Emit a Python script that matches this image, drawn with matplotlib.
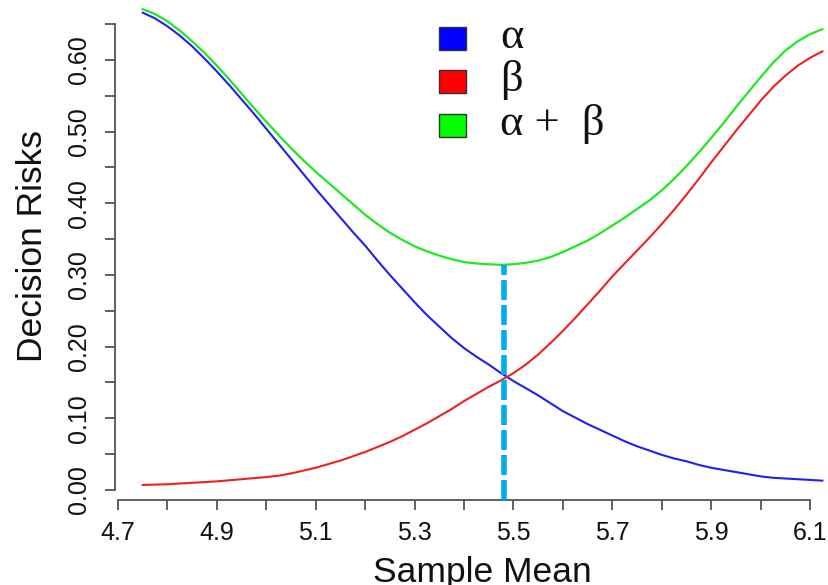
import matplotlib
matplotlib.use("Agg")
import matplotlib.pyplot as plt
from matplotlib.patches import Rectangle

plt.rcParams["font.family"] = ["Liberation Sans", "DejaVu Sans"]

# values
mean_x = [4.750, 4.775, 4.800, 4.825, 4.850, 4.875, 4.900, 4.925, 4.950, 4.975,
          5.000, 5.025, 5.050, 5.075, 5.100, 5.125, 5.150, 5.175, 5.200, 5.225,
          5.250, 5.275, 5.300, 5.325, 5.350, 5.375, 5.400, 5.425, 5.450, 5.475,
          5.500, 5.525, 5.550, 5.575, 5.600, 5.625, 5.650, 5.675, 5.700, 5.725,
          5.750, 5.775, 5.800, 5.825, 5.850, 5.875, 5.900, 5.925, 5.950, 5.975,
          6.000, 6.025, 6.050, 6.075, 6.100, 6.125]
alpha_risk = [0.666, 0.658, 0.647, 0.634, 0.619, 0.602, 0.584, 0.565, 0.545, 0.525,
              0.504, 0.483, 0.462, 0.441, 0.420, 0.400, 0.380, 0.360, 0.341, 0.320,
              0.300, 0.281, 0.262, 0.244, 0.228, 0.212, 0.198, 0.186, 0.175, 0.163,
              0.152, 0.142, 0.132, 0.121, 0.110, 0.101, 0.092, 0.084, 0.076, 0.068,
              0.061, 0.055, 0.049, 0.044, 0.040, 0.035, 0.031, 0.028, 0.025, 0.022,
              0.019, 0.017, 0.016, 0.015, 0.014, 0.013]
beta_risk = [0.007, 0.0075, 0.008, 0.009, 0.010, 0.011, 0.012, 0.0135, 0.015, 0.0165,
             0.018, 0.020, 0.023, 0.027, 0.031, 0.036, 0.041, 0.047, 0.053, 0.060,
             0.067, 0.075, 0.084, 0.093, 0.103, 0.113, 0.124, 0.134, 0.144, 0.153,
             0.163, 0.175, 0.189, 0.205, 0.222, 0.240, 0.259, 0.278, 0.298, 0.316,
             0.334, 0.352, 0.371, 0.391, 0.412, 0.434, 0.457, 0.479, 0.501, 0.522,
             0.543, 0.562, 0.578, 0.592, 0.603, 0.612]
total_risk = [0.671, 0.664, 0.654, 0.641, 0.626, 0.610, 0.592, 0.573, 0.553, 0.533,
              0.514, 0.495, 0.477, 0.460, 0.444, 0.429, 0.414, 0.399, 0.384, 0.371,
              0.359, 0.349, 0.340, 0.333, 0.327, 0.322, 0.318, 0.316, 0.315, 0.314,
              0.315, 0.317, 0.320, 0.325, 0.332, 0.340, 0.348, 0.358, 0.369, 0.380,
              0.392, 0.404, 0.418, 0.434, 0.452, 0.471, 0.491, 0.512, 0.534, 0.555,
              0.576, 0.596, 0.613, 0.626, 0.636, 0.643]
cut_x = 5.48

x_ticks = [4.7, 4.8, 4.9, 5.0, 5.1, 5.2, 5.3, 5.4, 5.5, 5.6, 5.7, 5.8, 5.9, 6.0, 6.1]
x_labels = ["4.7", "", "4.9", "", "5.1", "", "5.3", "", "5.5", "", "5.7", "", "5.9", "", "6.1"]
y_ticks = [0.0, 0.05, 0.10, 0.15, 0.20, 0.25, 0.30, 0.35, 0.40, 0.45, 0.50, 0.55, 0.60, 0.65]
y_labels = ["0.00", "", "0.10", "", "0.20", "", "0.30", "", "0.40", "", "0.50", "", "0.60", ""]

legend_labels = ["\u03b1", "\u03b2", "\u03b1 +  \u03b2"]
line_colors = ["#2020f0", "#f02020", "#20e820"]
box_colors = ["#0000ff", "#ff0000", "#00ff00"]

W, H = 829, 585
fig = plt.figure(figsize=(W / 100, H / 100), dpi=100)
ax = fig.add_axes([118 / W, 85 / H, (W - 118) / W, 500 / H])

ax.plot(mean_x, alpha_risk, color=line_colors[0], lw=1.5)
ax.plot(mean_x, beta_risk, color=line_colors[1], lw=1.5)
ax.plot(mean_x, total_risk, color=line_colors[2], lw=1.6)

# optimal cut-off where alpha + beta is smallest
y_low = -0.014
ax.vlines(cut_x, y_low, min(total_risk), color="#00aeef", lw=4,
          linestyles=(0, (3.6, 0.9)), zorder=3)

ax.set_xlim(4.7, 4.7 + 711 / 494.3)
ax.set_ylim(y_low, 490 / 716.7)

# R-style axes
for s in ["top", "right"]:
    ax.spines[s].set_visible(False)
ax.spines["left"].set_position(("outward", 2.2))
ax.spines["left"].set_bounds(0, 0.65)
ax.spines["bottom"].set_bounds(4.7, 6.1)
for s in ["left", "bottom"]:
    ax.spines[s].set_color("#555555")
    ax.spines[s].set_linewidth(1.3)

ax.set_xticks(x_ticks)
ax.set_xticklabels(x_labels, fontsize=18, color="#111111")
ax.set_yticks(y_ticks)
ax.set_yticklabels(y_labels, fontsize=18, color="#111111", rotation=90, va="center")
ax.tick_params(axis="both", direction="out", length=7.2, width=1.3, color="#555555")
ax.tick_params(axis="x", pad=8)
ax.tick_params(axis="y", pad=10)

fig.text(33 / W, 1 - 246 / H, "Decision Risks", rotation=90, ha="center", va="center",
         fontsize=25.5, color="#111111")
fig.text(482 / W, 1 - 582 / H, "Sample Mean", ha="center", va="baseline",
         fontsize=25.5, color="#111111")

# legend: square keys with greek labels
for i, (lab, col) in enumerate(zip(legend_labels, box_colors)):
    top = 27 + i * 43.3
    fig.patches.append(Rectangle((439 / W, 1 - (top + 23) / H), 27 / W, 23 / H,
                                 transform=fig.transFigure, facecolor=col,
                                 edgecolor="#333333", lw=1))
    fig.text(500 / W, 1 - (48 + i * 43.3) / H, lab, ha="left", va="baseline",
             family="Liberation Serif", fontsize=32, color="#111111")

plt.savefig("out.png", dpi=100)
